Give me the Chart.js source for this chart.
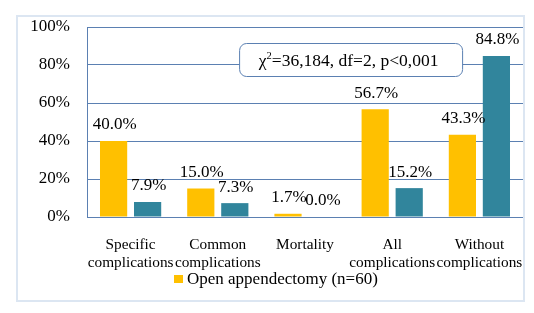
<!DOCTYPE html>
<html>
<head>
<meta charset="utf-8">
<script src="https://cdn.jsdelivr.net/npm/chart.js@4/dist/chart.umd.min.js"></script>
<style>
  html, body { margin: 0; padding: 0; background: #fff; }
  #frame {
    position: absolute; left: 16px; top: 15px;
    width: 505px; height: 283px;
    border: 2px solid #dce6f2;
  }
  #chart { display: block; }
</style>
</head>
<body>
<div id="frame"><canvas id="chart" width="505" height="283"></canvas></div>
<script>
const categories = [
  ["Specific", "complications"],
  ["Common", "complications"],
  ["Mortality"],
  ["All", "complications"],
  ["Without", "complications"],
];
const openValues = [40.0, 15.0, 1.7, 56.7, 43.3];
const laparoValues = [7.9, 7.3, 0.0, 15.2, 84.8];
const yTicks = [0, 20, 40, 60, 80, 100];
const statText = "=36,184, df=2, p<0,001";

const serif = "'Liberation Serif', 'Times New Roman', serif";
const gridBlue = "#5b80b2";

// value labels above each bar
const valueLabels = {
  id: "valueLabels",
  afterDatasetsDraw(chart) {
    const ctx = chart.ctx;
    ctx.save();
    ctx.font = "17px " + serif;
    ctx.fillStyle = "#000";
    ctx.textAlign = "center";
    ctx.textBaseline = "middle";
    chart.data.datasets.forEach((ds, i) => {
      chart.getDatasetMeta(i).data.forEach((bar, j) => {
        ctx.fillText(ds.data[j].toFixed(1) + "%", bar.x + 1, bar.y - 16);
      });
    });
    ctx.restore();
  },
};

// chi-square note box
const statBox = {
  id: "statBox",
  afterDatasetsDraw(chart) {
    const ctx = chart.ctx;
    const area = chart.chartArea;
    const cx = chart.scales.x.getPixelForValue(2.5) + 2;
    const w = 223, h = 33;
    const x = cx - w / 2, y = area.top + 16;
    ctx.save();
    ctx.beginPath();
    ctx.roundRect(x + 0.5, y + 0.5, w, h, 7);
    ctx.fillStyle = "#fff";
    ctx.fill();
    ctx.strokeStyle = gridBlue;
    ctx.lineWidth = 1;
    ctx.stroke();
    ctx.fillStyle = "#000";
    ctx.textBaseline = "alphabetic";
    ctx.font = "17.5px " + serif;
    const wChi = ctx.measureText("\u03c7").width;
    const wRest = ctx.measureText(statText).width;
    ctx.font = "10.5px " + serif;
    const wSup = ctx.measureText("2").width;
    let tx = cx - 2 - (wChi + wSup + wRest) / 2;
    const base = y + 23;
    ctx.font = "17.5px " + serif;
    ctx.fillText("\u03c7", tx, base);
    tx += wChi;
    ctx.font = "10.5px " + serif;
    ctx.fillText("2", tx, base - 7);
    tx += wSup;
    ctx.font = "17.5px " + serif;
    ctx.fillText(statText, tx, base);
    ctx.restore();
  },
};

// legend: only the first series is visible in the original
const firstLegend = {
  id: "firstLegend",
  afterDraw(chart) {
    const ctx = chart.ctx;
    const ds = chart.data.datasets[0];
    ctx.save();
    ctx.fillStyle = ds.backgroundColor;
    ctx.fillRect(156, 258, 9, 8);
    ctx.fillStyle = "#000";
    ctx.font = "17px " + serif;
    ctx.textBaseline = "middle";
    ctx.fillText(ds.label, 169, 263);
    ctx.restore();
  },
};

new Chart(document.getElementById("chart"), {
  type: "bar",
  data: {
    labels: categories,
    datasets: [
      {
        label: "Open appendectomy (n=60)",
        data: openValues,
        backgroundColor: "#ffc000",
        categoryPercentage: 0.78,
        barPercentage: 0.8,
      },
      {
        label: "Laparoscopic appendectomy",
        data: laparoValues,
        backgroundColor: "#31859c",
        categoryPercentage: 0.78,
        barPercentage: 0.8,
      },
    ],
  },
  options: {
    responsive: false,
    animation: false,
    layout: { padding: { top: 10, right: 0, left: 0, bottom: 0 } },
    plugins: {
      tooltip: { enabled: false },
      legend: { display: false },
    },
    scales: {
      x: {
        grid: { display: false, drawTicks: false },
        border: { color: gridBlue },
        ticks: {
          color: "#000",
          font: { family: serif, size: 15.3, lineHeight: 1.18 },
          padding: 19,
          maxRotation: 0,
          autoSkip: false,
        },
        afterFit(scale) {
          scale.height = 83;
          scale.paddingLeft = 0;
          scale.paddingRight = 0;
        },
      },
      y: {
        min: 0,
        max: 100,
        afterBuildTicks(scale) { scale.ticks = yTicks.map((v) => ({ value: v })); },
        grid: { color: gridBlue, drawTicks: false },
        border: { color: gridBlue },
        ticks: {
          color: "#000",
          font: { family: serif, size: 17 },
          padding: 17,
          callback: (v) => v + "%",
        },
        afterFit(scale) {
          scale.width = 69;
          scale.paddingTop = 0;
          scale.paddingBottom = 0;
        },
      },
    },
  },
  plugins: [valueLabels, statBox, firstLegend],
});
</script>
</body>
</html>
